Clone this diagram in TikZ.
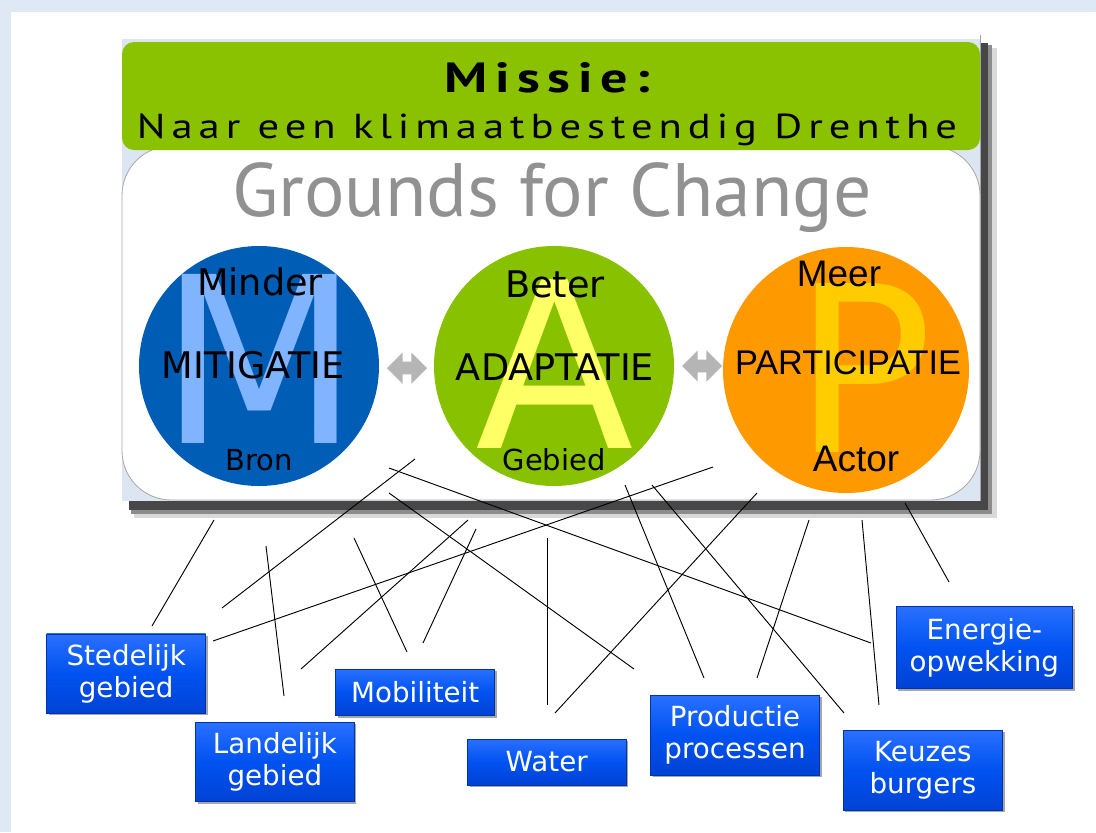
\documentclass[tikz,border=0pt]{standalone}
\usepackage{fontspec}
\usepackage{graphicx}
\usetikzlibrary{shapes.arrows,shadows}
\newfontfamily\vfont{DejaVu Sans}
\newfontfamily\afont{Liberation Sans}
\newfontfamily\tfont{PT Sans}
\newfontfamily\tfontsp[LetterSpace=14]{PT Sans}
\definecolor{bgblue}{HTML}{DEE9F5}
\definecolor{picbg}{HTML}{DCE6F2}
\definecolor{bannergreen}{HTML}{8AC100}
\definecolor{mcircle}{HTML}{005DB5}
\definecolor{mletter}{HTML}{80B4FF}
\definecolor{acircle}{HTML}{88C100}
\definecolor{aletter}{HTML}{FFFF66}
\definecolor{pcircle}{HTML}{FF9900}
\definecolor{pletter}{HTML}{FFCC00}
\definecolor{arrowgrey}{HTML}{B5B5B5}
\definecolor{groundsgrey}{HTML}{919191}
\definecolor{paneledge}{HTML}{A6A6A6}
\definecolor{boxtop}{HTML}{2A70FF}
\definecolor{boxmid}{HTML}{0052F0}
\definecolor{boxbot}{HTML}{0042D4}
\definecolor{boxedge}{HTML}{0034A8}
\begin{document}
\begin{tikzpicture}[x=0.75pt,y=-0.75pt,
  box/.style={rectangle, draw=boxedge, line width=0.6pt, top color=boxtop,
    bottom color=boxbot, middle color=boxmid, text=white, align=center,
    font=\vfont\fontsize{20.8pt}{24pt}\selectfont, inner sep=0pt,
    drop shadow={shadow xshift=1.8pt, shadow yshift=-1.8pt, opacity=0.35, fill=black}},
  bigletter/.style={anchor=base, inner sep=0pt, font=\vfont\fontsize{174pt}{174pt}\selectfont},
  ctext/.style={anchor=base, inner sep=0pt, text=black, font=\vfont\fontsize{27.5pt}{30pt}\selectfont},
  csmall/.style={anchor=base, inner sep=0pt, text=black, font=\vfont\fontsize{21.7pt}{24pt}\selectfont},
  ptext/.style={anchor=base, inner sep=0pt, text=black, font=\afont\fontsize{27.7pt}{30pt}\selectfont},
  circ/.style={circle, inner sep=0pt},
  dbl/.style={double arrow, fill=arrowgrey, inner sep=4.5pt, minimum height=30pt,
    double arrow head extend=7pt, double arrow head indent=0pt},
  thinline/.style={black, line width=0.7pt}]
\useasboundingbox (0,0) rectangle (1096,832);
\fill[bgblue] (0,0) rectangle (1096,832);
\fill[white] (11,12) rectangle (1096,832);

% shadow of the picture
\fill[black!15] (134,48) rectangle (997,518);
\fill[black!45] (131,45) rectangle (992,514);
\fill[black!72] (129,43) rectangle (988,510);

% picture
\fill[picbg] (122,39) rectangle (980,501);
\draw[paneledge, line width=0.5pt] (980,35) -- (980,501);
\draw[paneledge, line width=0.6pt, fill=white, rounded corners=37pt] (122,146) rectangle (980,500);
\fill[bannergreen, rounded corners=9pt] (122,42) rectangle (980,150);

\node[anchor=base, inner sep=0pt] (missie) at (547,92)
  {\resizebox{154pt}{22.5pt}{\tfontsp\bfseries\fontsize{31pt}{31pt}\selectfont Missie:}};
\node[anchor=base, inner sep=0pt] (naar) at (547,138)
  {\resizebox{615pt}{18.5pt}{\tfontsp\fontsize{23pt}{23pt}\selectfont Naar een klimaatbestendig Drenthe}};
\node[anchor=base, inner sep=0pt, text=groundsgrey] (grounds) at (552,216)
  {\resizebox{480pt}{!}{\tfont\fontsize{53pt}{53pt}\selectfont Grounds for Change}};

% circles
\node[circ, fill=mcircle, minimum size=180pt] (M) at (259,366) {};
\node[circ, fill=acircle, minimum size=180pt] (A) at (554,366) {};
\node[circ, fill=pcircle, minimum size=184.5pt] (P) at (846,370) {};

\node[bigletter, text=mletter] (Mbig) at (260,443) {M};
\node[bigletter, text=aletter] (Abig) at (555,448) {A};
\node[bigletter, text=pletter] (Pbig) at (863,452) {P};

\node[ctext] (minder) at (260,295) {Minder};
\node[ctext] (mitig) at (253,378) {MITIGATIE};
\node[csmall] (bron) at (259,470) {Bron};
\node[ctext] (beter) at (555,297) {Beter};
\node[ctext] (adapt) at (555,380) {ADAPTATIE};
\node[csmall] (gebied) at (554,470) {Gebied};
\node[ptext] (meer) at (839,286) {Meer};
\node[ptext, font=\afont\fontsize{25.7pt}{30pt}\selectfont] (partic) at (848,374) {PARTICIPATIE};
\node[ptext] (actor) at (856,471) {Actor};

\node[dbl] (ar1) at (407,368) {};
\node[dbl] (ar2) at (702,366) {};

% boxes
\node[box, minimum width=119.3pt, minimum height=59.3pt] (sted) at (126.2,673.5) {Stedelijk\\gebied};
\node[box, minimum width=118.7pt, minimum height=59.8pt] (land) at (274.9,761.9) {Landelijk\\gebied};
\node[box, minimum width=119.3pt, minimum height=35pt] (mobi) at (415.2,692.4) {Mobiliteit};
\node[box, minimum width=119pt, minimum height=34.5pt] (water) at (546.7,762) {Water};
\node[box, minimum width=126.5pt, minimum height=60pt] (prod) at (735,735) {Productie\\processen};
\node[box, minimum width=119.8pt, minimum height=60pt] (keuz) at (922.9,770) {Keuzes\\burgers};
\node[box, minimum width=132.5pt, minimum height=61.2pt] (ener) at (984.4,647.5) {Energie-\\opwekking};

% free lines
\coordinate (a1) at (214,520);  \coordinate (b1) at (152,626);
\coordinate (a2) at (415,459);  \coordinate (b2) at (222,608);
\coordinate (a3) at (713,467);  \coordinate (b3) at (213,641);
\coordinate (a4) at (389,468);  \coordinate (b4) at (871,643);
\coordinate (a5) at (389,493);  \coordinate (b5) at (634,669);
\coordinate (a6) at (468,520);  \coordinate (b6) at (301,669);
\coordinate (a7) at (476,529);  \coordinate (b7) at (423,643);
\coordinate (a8) at (354,538);  \coordinate (b8) at (407,652);
\coordinate (a9) at (266,546);  \coordinate (b9) at (284,696);
\coordinate (a10) at (547,538); \coordinate (b10) at (547,705);
\coordinate (a11) at (757,493); \coordinate (b11) at (555,713);
\coordinate (a12) at (625,485); \coordinate (b12) at (704,678);
\coordinate (a13) at (652,485); \coordinate (b13) at (844,713);
\coordinate (a14) at (809,520); \coordinate (b14) at (757,678);
\coordinate (a15) at (862,520); \coordinate (b15) at (879,705);
\coordinate (a16) at (905,503); \coordinate (b16) at (949,582);
\foreach \i in {1,...,16} { \draw[thinline] (a\i) -- (b\i); }
\end{tikzpicture}
\end{document}
